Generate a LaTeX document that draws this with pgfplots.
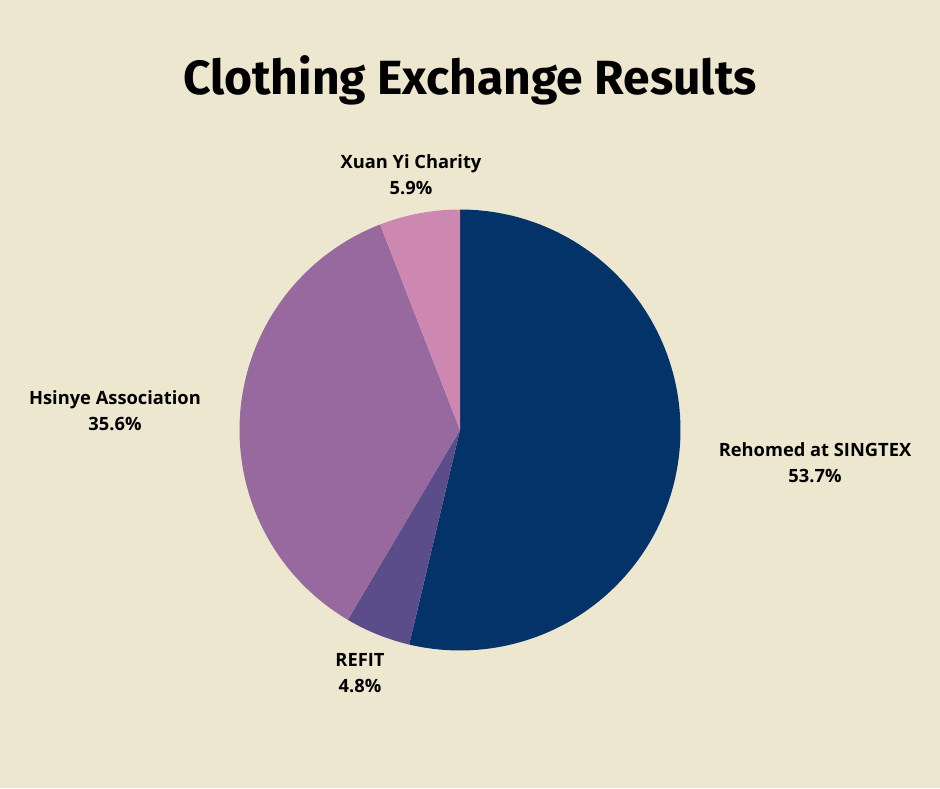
\documentclass[border=0pt]{standalone}
\usepackage{pgfplots}
\pgfplotsset{compat=1.18}
\usepackage{pgfplotstable}
\usepackage{fontspec}
\setmainfont{Open Sans}
\newfontfamily\titlefont{Fira Sans}
\definecolor{bgc}{HTML}{EEE7D0}
\definecolor{c1}{HTML}{043369}
\definecolor{c2}{HTML}{5B4C8A}
\definecolor{c3}{HTML}{98699E}
\definecolor{c4}{HTML}{CD88B2}
\pgfplotstableread{
label value
Rehomed 53.7
REFIT 4.8
Hsinye 35.6
Xuan 5.9
}\piedata
\pgfplotstablegetelem{0}{value}\of\piedata \let\va\pgfplotsretval
\pgfplotstablegetelem{1}{value}\of\piedata \let\vb\pgfplotsretval
\pgfplotstablegetelem{2}{value}\of\piedata \let\vc\pgfplotsretval
\pgfplotstablegetelem{3}{value}\of\piedata \let\vd\pgfplotsretval
\pgfmathsetmacro\aA{90}
\pgfmathsetmacro\aB{\aA-3.6*\va}
\pgfmathsetmacro\aC{\aB-3.6*\vb}
\pgfmathsetmacro\aD{\aC-3.6*\vc}
\pgfmathsetmacro\aE{\aD-3.6*\vd}
\def\cx{460}\def\cy{358}\def\rr{220.5}
\begin{document}
\begin{tikzpicture}[x=1pt,y=1pt]
\fill[bgc] (0,0) rectangle (940,788);
\begin{axis}[at={(0,0)},anchor=south west,
  width=940pt,height=788pt,scale only axis,
  xmin=0,xmax=940,ymin=0,ymax=788,
  hide axis,clip=false]
\addplot[fill=c1,draw=none,domain=\aB:\aA,samples=120] ({\cx+\rr*cos(x)},{\cy+\rr*sin(x)}) -- (axis cs:\cx,\cy) -- cycle;
\addplot[fill=c2,draw=none,domain=\aC:\aB,samples=30] ({\cx+\rr*cos(x)},{\cy+\rr*sin(x)}) -- (axis cs:\cx,\cy) -- cycle;
\addplot[fill=c3,draw=none,domain=\aD:\aC,samples=100] ({\cx+\rr*cos(x)},{\cy+\rr*sin(x)}) -- (axis cs:\cx,\cy) -- cycle;
\addplot[fill=c4,draw=none,domain=\aE:\aD,samples=30] ({\cx+\rr*cos(x)},{\cy+\rr*sin(x)}) -- (axis cs:\cx,\cy) -- cycle;
\node[font=\titlefont\bfseries\fontsize{48}{56}\selectfont] at (axis cs:470,708) {Clothing Exchange Results};
\tikzset{lbl/.style={font=\bfseries\fontsize{18.3}{26}\selectfont,align=center}}
\node[lbl] at (axis cs:815,325) {Rehomed at SINGTEX\\53.7\%};
\node[lbl] at (axis cs:115,377) {Hsinye Association\\35.6\%};
\node[lbl] at (axis cs:360,115) {REFIT\\4.8\%};
\node[lbl] at (axis cs:411,613) {Xuan Yi Charity\\5.9\%};
\end{axis}
\end{tikzpicture}
\end{document}
